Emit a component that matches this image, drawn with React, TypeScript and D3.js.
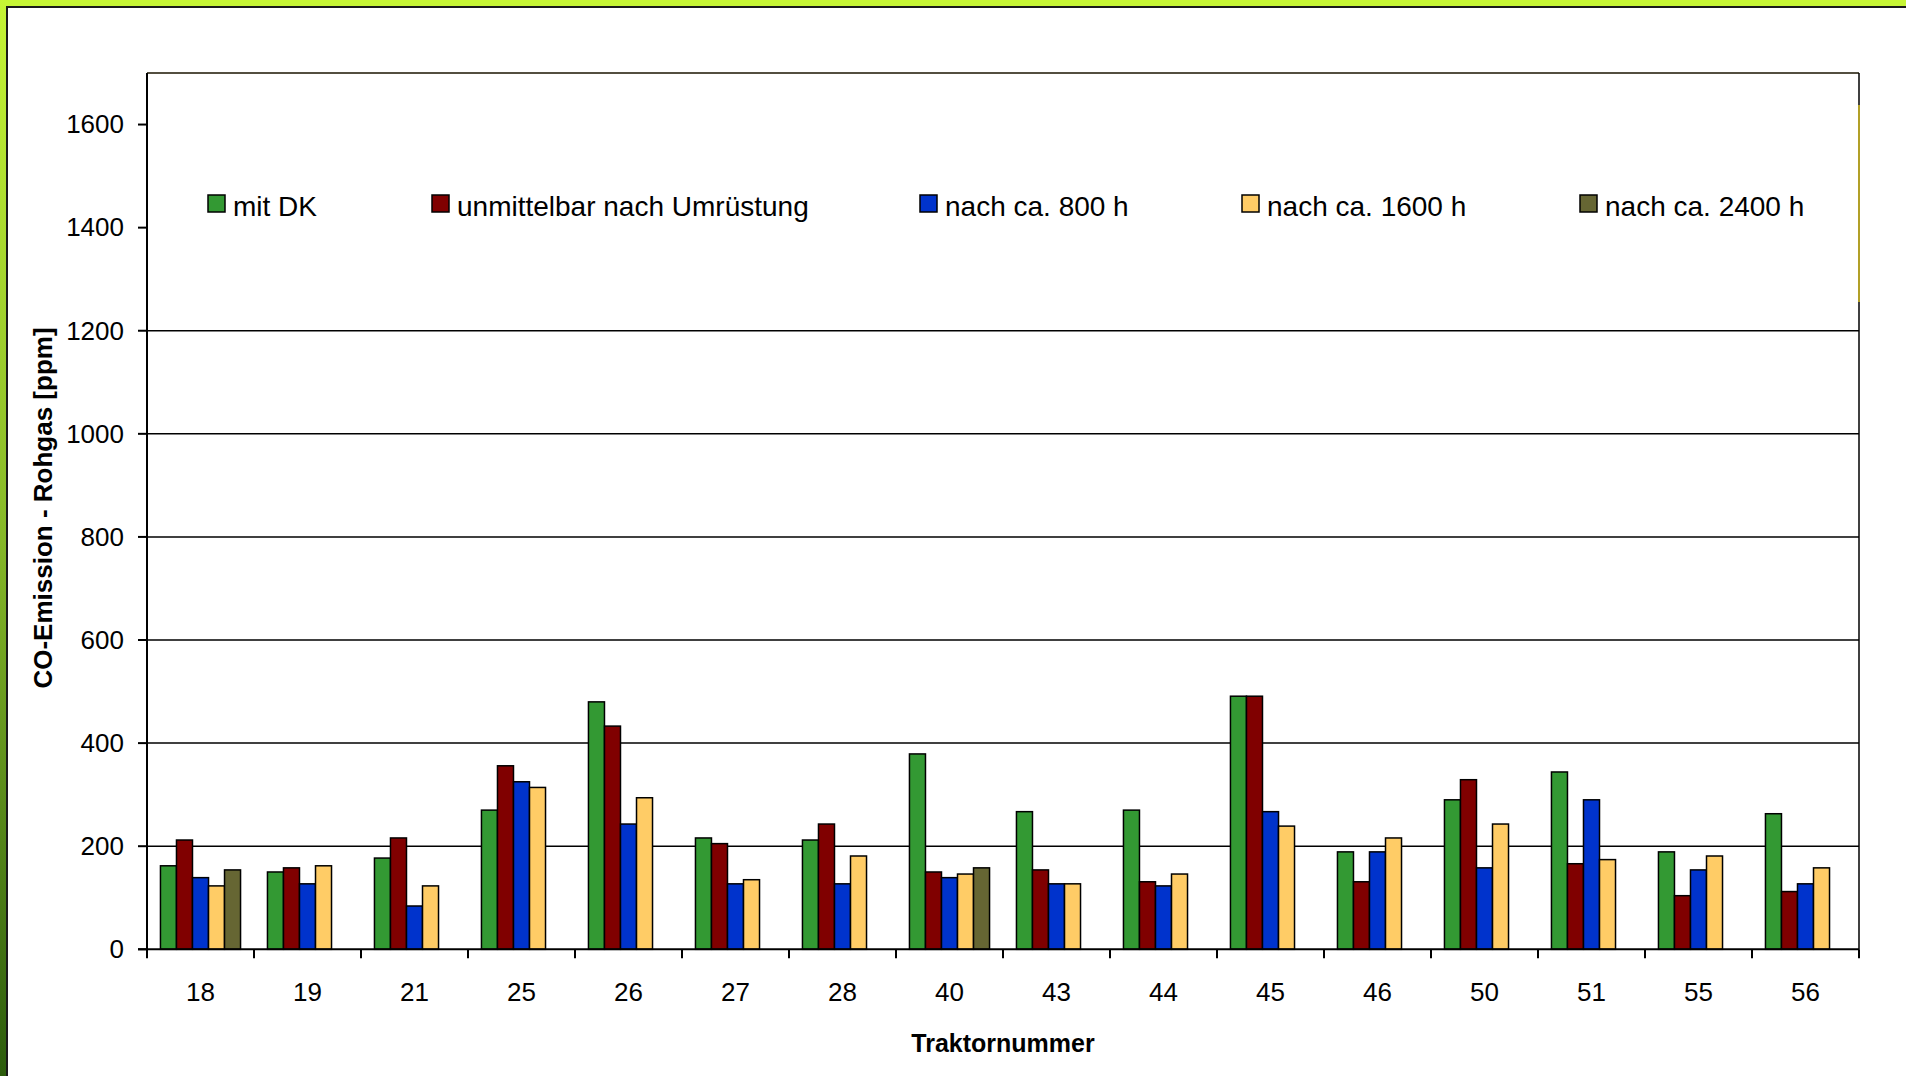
import React, { useEffect, useRef } from 'react';
import * as d3 from 'd3';

const categories = ['18', '19', '21', '25', '26', '27', '28', '40', '43', '44', '45', '46', '50', '51', '55', '56'];
const seriesNames = ['mit DK', 'unmittelbar nach Umrüstung', 'nach ca. 800 h', 'nach ca. 1600 h', 'nach ca. 2400 h'];
const seriesColors = ['#339933', '#800000', '#0033cc', '#ffcc66', '#666633'];

const mitDK = [162, 150, 177, 270, 480, 216, 212, 379, 267, 270, 491, 189, 290, 344, 189, 263];
const nachUmruestung = [212, 158, 216, 356, 433, 205, 243, 150, 154, 131, 491, 131, 329, 166, 104, 112];
const nach800 = [139, 127, 84, 325, 243, 127, 127, 139, 127, 123, 267, 189, 158, 290, 154, 127];
const nach1600 = [123, 162, 123, 314, 294, 135, 181, 146, 127, 146, 239, 216, 243, 174, 181, 158];
const nach2400: (number | null)[] = [154, null, null, null, null, null, null, 158, null, null, null, null, null, null, null, null];

const yTicks = [0, 200, 400, 600, 800, 1000, 1200, 1400, 1600];
const gridValues = [200, 400, 600, 800, 1000, 1200];
const legendX = [208, 432, 920, 1242, 1580];

const W = 1906;
const H = 1076;

const App: React.FC = () => {
  const svgRef = useRef<SVGSVGElement>(null);

  useEffect(() => {
    if (!svgRef.current) return;
    const svg = d3.select(svgRef.current);
    svg.selectAll('*').remove();

    const left = 147, right = 1859, top = 73, bottom = 949.3;
    const font = 'Liberation Sans, Arial, sans-serif';
    const series = [mitDK, nachUmruestung, nach800, nach1600, nach2400];

    // frame gradient
    const defs = svg.append('defs');
    const grad = defs.append('linearGradient').attr('id', 'leftBand')
      .attr('x1', 0).attr('y1', 0).attr('x2', 0).attr('y2', 1);
    grad.append('stop').attr('offset', '0%').attr('stop-color', '#c6f535');
    grad.append('stop').attr('offset', '50%').attr('stop-color', '#86b828');
    grad.append('stop').attr('offset', '100%').attr('stop-color', '#2c5c0c');

    svg.append('rect').attr('width', W).attr('height', H).attr('fill', '#ffffff');
    svg.append('rect').attr('x', 0).attr('y', 0).attr('width', W).attr('height', 6).attr('fill', '#c6f535');
    svg.append('rect').attr('x', 0).attr('y', 0).attr('width', 6).attr('height', H).attr('fill', 'url(#leftBand)');
    svg.append('line').attr('x1', 6).attr('x2', W).attr('y1', 7).attr('y2', 7)
      .attr('stroke', '#1a1a1a').attr('stroke-width', 2);
    svg.append('line').attr('x1', 7).attr('x2', 7).attr('y1', 7).attr('y2', H)
      .attr('stroke', '#1a1a1a').attr('stroke-width', 2);

    const y = d3.scaleLinear().domain([0, 1700]).range([bottom, top]);
    const x0 = d3.scaleBand<string>().domain(categories).range([left, right]).paddingInner(0).paddingOuter(0);
    const x1 = d3.scaleBand<number>().domain(d3.range(5)).range([0, x0.bandwidth()]).paddingInner(0).paddingOuter(0.84);

    // gridlines
    svg.append('g').selectAll('line').data(gridValues).join('line')
      .attr('x1', left).attr('x2', right)
      .attr('y1', d => y(d)).attr('y2', d => y(d))
      .attr('stroke', '#000').attr('stroke-width', 1.5);

    // bars
    const g = svg.append('g');
    categories.forEach((c, i) => {
      series.forEach((s, k) => {
        const v = s[i];
        if (v == null) return;
        g.append('rect')
          .attr('x', (x0(c) as number) + (x1(k) as number))
          .attr('y', y(v))
          .attr('width', x1.bandwidth())
          .attr('height', bottom - y(v))
          .attr('fill', seriesColors[k])
          .attr('stroke', '#000')
          .attr('stroke-width', 1.5);
      });
    });

    // plot border
    svg.append('line').attr('x1', left).attr('x2', right).attr('y1', top).attr('y2', top)
      .attr('stroke', '#1a1400').attr('stroke-width', 1.5);
    svg.append('line').attr('x1', right).attr('x2', right).attr('y1', top).attr('y2', bottom)
      .attr('stroke', '#000').attr('stroke-width', 1.5);
    svg.append('line').attr('x1', right).attr('x2', right).attr('y1', 105).attr('y2', 302)
      .attr('stroke', '#d8c020').attr('stroke-width', 1.5);

    // y axis
    const yAxis = svg.append('g');
    yAxis.append('line').attr('x1', left).attr('x2', left).attr('y1', top).attr('y2', bottom)
      .attr('stroke', '#000').attr('stroke-width', 2);
    yAxis.selectAll('line.tick').data(yTicks).join('line').attr('class', 'tick')
      .attr('x1', left - 9).attr('x2', left)
      .attr('y1', d => y(d)).attr('y2', d => y(d))
      .attr('stroke', '#000').attr('stroke-width', 2);
    yAxis.selectAll('text').data(yTicks).join('text')
      .attr('x', 124).attr('y', d => y(d)).attr('dy', '0.34em')
      .attr('text-anchor', 'end').attr('font-family', font).attr('font-size', 26).attr('fill', '#000')
      .text(d => d);

    // x axis
    const xAxis = svg.append('g');
    xAxis.append('line').attr('x1', left - 9).attr('x2', right).attr('y1', bottom).attr('y2', bottom)
      .attr('stroke', '#000').attr('stroke-width', 2);
    const bounds = categories.map(c => x0(c) as number).concat([right]);
    xAxis.selectAll('line.tick').data(bounds).join('line').attr('class', 'tick')
      .attr('x1', d => d).attr('x2', d => d)
      .attr('y1', bottom).attr('y2', bottom + 9)
      .attr('stroke', '#000').attr('stroke-width', 2);
    xAxis.selectAll('text').data(categories).join('text')
      .attr('x', d => (x0(d) as number) + x0.bandwidth() / 2).attr('y', 1001)
      .attr('text-anchor', 'middle').attr('font-family', font).attr('font-size', 26).attr('fill', '#000')
      .text(d => d);

    // axis titles
    svg.append('text')
      .attr('x', (left + right) / 2).attr('y', 1052)
      .attr('text-anchor', 'middle').attr('font-family', font).attr('font-size', 25).attr('font-weight', 'bold')
      .text('Traktornummer');
    svg.append('text')
      .attr('transform', 'translate(52,508) rotate(-90)')
      .attr('text-anchor', 'middle').attr('font-family', font).attr('font-size', 26).attr('font-weight', 'bold')
      .text('CO-Emission - Rohgas [ppm]');

    // legend
    const legend = svg.append('g');
    seriesNames.forEach((name, k) => {
      legend.append('rect')
        .attr('x', legendX[k]).attr('y', 195).attr('width', 17).attr('height', 17)
        .attr('fill', seriesColors[k]).attr('stroke', '#000').attr('stroke-width', 1.5);
      legend.append('text')
        .attr('x', legendX[k] + 25).attr('y', 216)
        .attr('font-family', font).attr('font-size', 28).attr('fill', '#000')
        .text(name);
    });
  }, []);

  return (
    <svg ref={svgRef} width={W} height={H} style={{ position: 'absolute', left: 0, top: 0, display: 'block' }} />
  );
};

export default App;
